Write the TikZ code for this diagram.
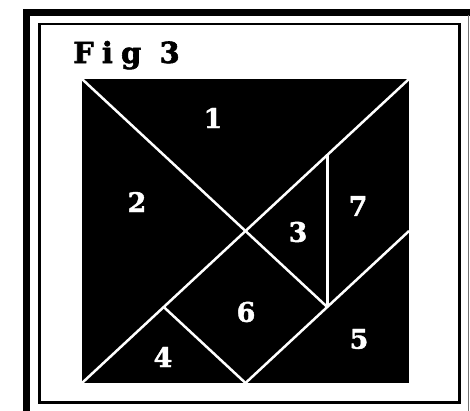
\documentclass[tikz,border=0pt]{standalone}
\usepackage{fontspec}
\setmainfont{DejaVu Serif}
\begin{document}
\begin{tikzpicture}[x=1pt,y=-1pt,
  cut/.style={draw=white,line width=2.5pt},
  num/.style={text=white,font=\bfseries\fontsize{27}{27}\selectfont\addfontfeature{FakeBold=1.5},inner sep=0pt},
  frameline/.style={draw=black,line width=2.5pt}]
\useasboundingbox (0,0) rectangle (470,410);
\clip (0,0) rectangle (470,410);
\fill[white] (0,0) rectangle (470,410);
% outer frame (cut by the page)
\draw[line width=7pt] (26,430) -- (26,12) -- (480,12);
\draw[black!55, line width=1pt] (468,15) -- (468,430);
% inner frame
\draw[frameline] (39.5,24) rectangle (459.5,402.5);
% title
\node[anchor=base west,inner sep=0pt,font=\bfseries\fontsize{29}{29}\selectfont\addfontfeature{LetterSpace=28,FakeBold=2}] (title) at (73,63) {Fig 3};
% tangram square
\coordinate (TL) at (82,79);
\coordinate (TR) at (409,79);
\coordinate (BL) at (82,383);
\coordinate (BR) at (409,383);
\coordinate (Q) at (327.25,155);
\coordinate (P) at (327.25,307);
\coordinate (R) at (163.75,307);
\coordinate (M) at (409,231);
\coordinate (B) at (245.5,383);
\fill[black] (TL) rectangle (BR);
\draw[cut] (TL) -- (P);
\draw[cut] (TR) -- (BL);
\draw[cut] (Q) -- (P);
\draw[cut] (M) -- (B);
\draw[cut] (R) -- (B);
% piece numbers
\node[num] (n1) at (213,118) {1};
\node[num] (n2) at (137,202) {2};
\node[num] (n3) at (298,232) {3};
\node[num] (n7) at (358,206) {7};
\node[num] (n6) at (246,312) {6};
\node[num] (n4) at (163,357) {4};
\node[num] (n5) at (359,339) {5};
\end{tikzpicture}
\end{document}
